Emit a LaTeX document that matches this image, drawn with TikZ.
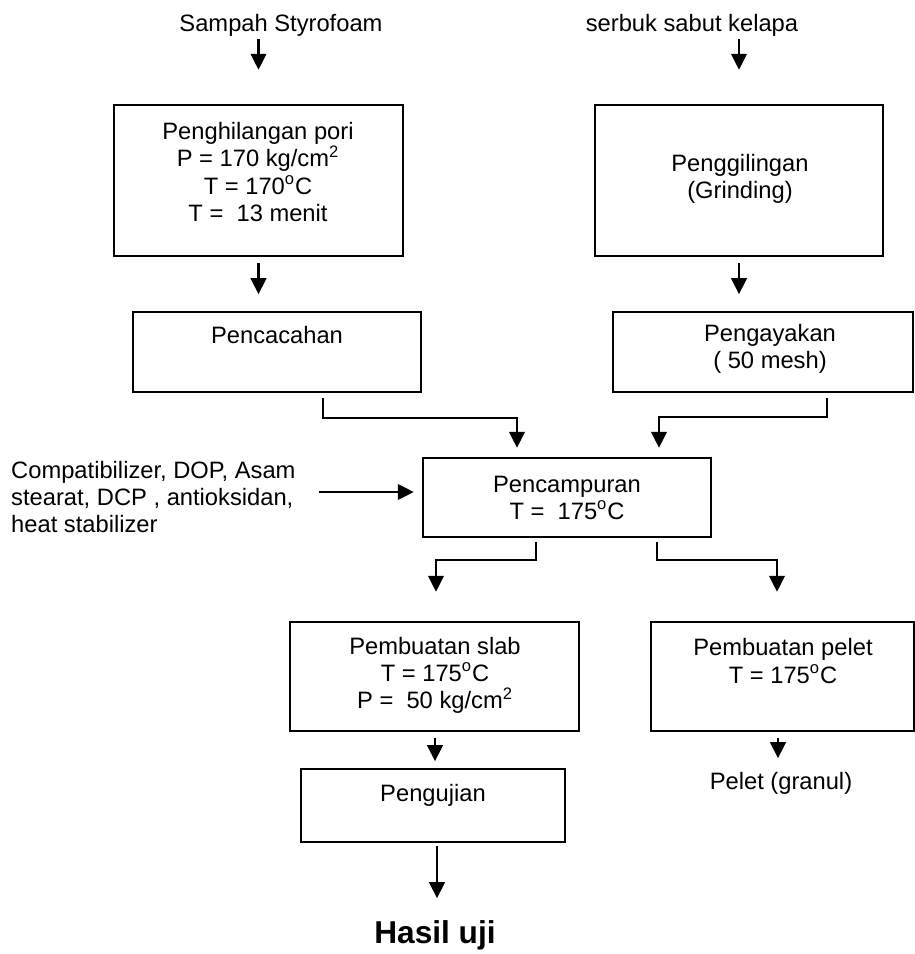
\documentclass[tikz,border=0pt]{standalone}
\usepackage{fontspec}
\setmainfont{Liberation Sans}
\usetikzlibrary{arrows.meta,calc}
\begin{document}
\begin{tikzpicture}[x=0.02cm, y=-0.02cm, line width=1.4pt,
  box/.style={draw, rectangle, inner sep=0pt},
  txt/.style={align=center, inner sep=0pt, font=\fontsize{13.5}{15.4}\selectfont},
  arr/.style={-{Triangle[length=0.32cm,width=0.31cm]}}]
\useasboundingbox (0,0) rectangle (915,954);
% inputs
\node[txt] (P_styro) at (281,25) {Sampah Styrofoam};
\node[txt] (P_sabut) at (692,25) {serbuk sabut kelapa};
% boxes
\node[box, minimum width=5.78cm, minimum height=3.02cm] (P_pori) at (258.5,180.5) {};
\node[txt] at (258,172) {Penghilangan pori\\P = 170 kg/cm\textsuperscript{2}\\T = 170\textsuperscript{o}C\\T = \ 13 menit};
\node[box, minimum width=5.76cm, minimum height=3.02cm] (P_giling) at (739,180.5) {};
\node[txt] at (740,179) {Penggilingan\\(Grinding)};
\node[box, minimum width=5.76cm, minimum height=1.6cm] (P_cacah) at (277,352) {};
\node[txt] at (277,335) {Pencacahan};
\node[box, minimum width=6cm, minimum height=1.6cm] (P_ayak) at (763,352) {};
\node[txt] at (770,349) {Pengayakan\\(\ 50 mesh)};
\node[box, minimum width=5.76cm, minimum height=1.58cm] (P_campur) at (567,497.5) {};
\node[txt] at (567,497.5) {Pencampuran\\T = \ 175\textsuperscript{o}C};
\node[txt, align=left, anchor=west] (P_aditif) at (10,497) {Compatibilizer, DOP, Asam\\stearat, DCP , antioksidan,\\heat stabilizer};
\node[box, minimum width=5.78cm, minimum height=2.18cm] (P_slab) at (434.5,676.5) {};
\node[txt] at (435,675) {Pembuatan slab\\T = 175\textsuperscript{o}C\\P = \ 50 kg/cm\textsuperscript{2}};
\node[box, minimum width=5.26cm, minimum height=2.18cm] (P_pelet) at (782.5,676.5) {};
\node[txt] at (783,661) {Pembuatan pelet\\T = 175\textsuperscript{o}C};
\node[box, minimum width=5.28cm, minimum height=1.46cm] (P_uji) at (433,805.5) {};
\node[txt] at (433,795) {Pengujian};
% outputs
\node[txt] (P_granul) at (781,783) {Pelet (granul)};
\node[txt, font=\fontsize{18}{20}\selectfont\bfseries] (P_hasil) at (435,935) {Hasil uji};
% arrows
\draw[arr] ($(P_pori.north)+(0,-65)$) -- ($(P_pori.north)+(0,-34)$);
\draw[arr] ($(P_giling.north)+(0,-65)$) -- ($(P_giling.north)+(0,-34)$);
\draw[arr] ($(P_pori.south)+(0,6)$) -- ($(P_pori.south)+(0,37)$);
\draw[arr] ($(P_giling.south)+(0,6)$) -- ($(P_giling.south)+(0,37)$);
\draw[arr] ($(P_cacah.south)+(46,5)$) -- ++(0,20) -| ($(P_campur.north)+(-50,-9)$);
\draw[arr] ($(P_ayak.south)+(64,5)$) -- ++(0,19) -| ($(P_campur.north)+(92,-9)$);
\draw[arr] ($(P_campur.west)+(-103,-5.5)$) -- ($(P_campur.west)+(-8,-5.5)$);
\draw[arr] ($(P_campur.south)+(-31,4)$) -- ++(0,18) -| ($(P_slab.north)+(1.5,-29)$);
\draw[arr] ($(P_campur.south)+(90,4)$) -- ++(0,18) -| ($(P_pelet.north)+(-5.5,-29)$);
\draw[arr] ($(P_slab.south)+(0.5,6)$) -- ($(P_slab.south)+(0.5,29)$);
\draw[arr] ($(P_pelet.south)+(-4.5,6)$) -- ($(P_pelet.south)+(-4.5,26)$);
\draw[arr] ($(P_uji.south)+(4,3)$) -- ($(P_uji.south)+(4,55)$);
\end{tikzpicture}
\end{document}
